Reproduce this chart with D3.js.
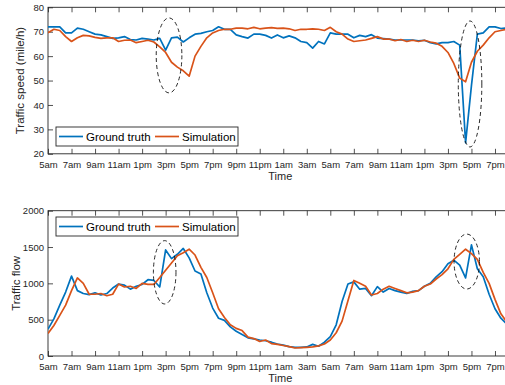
<!DOCTYPE html>
<html>
<head>
<meta charset="utf-8">
<script src="https://cdn.jsdelivr.net/npm/d3@7"></script>
<style>
  body { margin: 0; background: #fff; }
  svg { display: block; font-family: "Liberation Sans", Arial, sans-serif; }
</style>
</head>
<body>
<script>
// samples every half hour starting at 5am on day 1
const step = 0.5;
const tickLabels = ["5am", "7am", "9am", "11am", "1pm", "3pm", "5pm", "7pm", "9pm", "11pm",
  "1am", "3am", "5am", "7am", "9am", "11am", "1pm", "3pm", "5pm", "7pm"];
const seriesNames = ["Ground truth", "Simulation"];

const speedTruth = [72, 72, 72, 69.5, 69.5, 71.5, 71, 70, 69, 68.7,
  68, 67.3, 67.5, 68, 66.8, 66.6, 67.3, 67, 66.6, 67.3,
  62.5, 67.5, 67.8, 65.8, 67.5, 69, 69.3, 70, 70.5, 72,
  71, 71, 68.7, 68, 67.4, 69, 69, 68.5, 67.4, 68.7,
  67.5, 68.3, 67.5, 66, 65.5, 63.3, 66, 65, 69.5, 69,
  69, 69, 67.5, 68.5, 68, 68.8, 67.4, 67.2, 67, 66.6,
  66.6, 66.6, 66.6, 66.3, 66.5, 65.5, 65, 65.5, 65.5, 66,
  64.5, 24.5, 48, 69, 69.5, 72, 72, 71.3, 71.5];
const speedSim = [69.6, 71, 70.5, 68, 66, 67.5, 68.5, 68.3, 67.7, 67.3,
  67.5, 67.5, 66, 66.5, 66.6, 65.5, 66, 66.5, 65.8, 63.8,
  61.5, 57.5, 55.5, 54, 51.8, 60, 64, 67.5, 69.5, 70.5,
  71, 71, 71.5, 71.5, 71.2, 71.8, 71.2, 71.5, 71.7, 71.4,
  71.5, 71.2, 70.5, 71, 71, 71.2, 71, 70.5, 71.8, 70,
  69, 67, 66, 66.3, 66.6, 67.3, 68, 67, 67, 66.3,
  66.8, 66, 66.5, 66, 66.5, 65.8, 65.3, 64, 61.5, 57,
  51, 49.5, 57.5, 62, 64.5, 67.5, 70, 70.5, 71];

const flowTruth = [370, 510, 700, 880, 1100, 900, 860, 845, 870, 840,
  860, 935, 990, 975, 920, 960, 985, 1050, 1040, 950,
  1460, 1340, 1400, 1480, 1350, 1170, 1130, 870, 660, 520,
  490, 400, 340, 295, 250, 235, 220, 210, 190, 165,
  150, 130, 120, 120, 125, 160, 135, 190, 265, 430,
  750, 990, 1020, 920, 930, 830, 955, 880, 930, 900,
  880, 860, 890, 900, 960, 1000, 1090, 1160, 1270, 1320,
  1250, 1075, 1530, 1200, 1090, 850, 650, 520, 440];
const flowSim = [310, 420, 560, 700, 900, 1075, 1000, 850, 850, 860,
  830, 850, 990, 950, 960, 930, 1000, 985, 985, 1080,
  1180, 1280, 1380, 1420, 1470, 1390, 1220, 1080, 870, 650,
  530, 430, 380, 350, 260, 240, 200, 220, 170, 160,
  145, 130, 110, 115, 120, 125, 140, 165, 220, 320,
  480, 760, 1040, 1000, 960, 840, 860, 920, 960, 930,
  900, 870, 880, 900, 960, 990, 1060, 1120, 1200, 1330,
  1400, 1470, 1410, 1330, 1150, 1000, 780, 580, 470];

// dashed ellipses marking the disagreements (hour, value, half-width, half-height)
const speedRings = [{ h: 10.29, v: 60.3, dh: 1.09, dv: 15.35 }, { h: 35.88, v: 48.6, dh: 1.0, dv: 25.8 }];
const flowRings = [{ h: 9.92, v: 1152, dh: 0.96, dv: 436 }, { h: 35.6, v: 1300, dh: 1.08, dv: 378 }];

const colors = ["#0072BD", "#D95319"];
const ink = "#262626";

const svg = d3.select("body").append("svg")
  .attr("width", 505)
  .attr("height", 385);

const x = d3.scaleLinear().domain([0, 39.5]).range([48, 48 + 39.5 * 11.763]);

function panel(opts) {
  const y = d3.scaleLinear().domain(opts.domain).range([opts.bottom, opts.top]);
  const g = svg.append("g");
  const [x0, x1] = x.range();

  const clipId = "clip" + Math.round(opts.top);
  g.append("clipPath").attr("id", clipId)
    .append("rect").attr("x", x0).attr("y", opts.top)
    .attr("width", x1 - x0).attr("height", opts.bottom - opts.top);

  // axes with inward ticks like matlab
  g.append("g")
    .attr("transform", `translate(0,${opts.bottom})`)
    .call(d3.axisBottom(x)
      .tickValues(d3.range(0, 39, 2))
      .tickSizeInner(-5).tickSizeOuter(0).tickPadding(7.5)
      .tickFormat((d, i) => tickLabels[i]))
    .call(a => a.select(".domain").remove());
  g.append("g")
    .attr("transform", `translate(0,${opts.top})`)
    .call(d3.axisTop(x)
      .tickValues(d3.range(0, 39, 2))
      .tickSizeInner(-5).tickSizeOuter(0)
      .tickFormat(""))
    .call(a => a.select(".domain").remove());
  g.append("g")
    .attr("transform", `translate(${x0},0)`)
    .call(d3.axisLeft(y)
      .tickValues(opts.ticks)
      .tickFormat(d3.format("d"))
      .tickSizeInner(-5).tickSizeOuter(0).tickPadding(4))
    .call(a => a.select(".domain").remove());

  g.selectAll(".tick line").attr("stroke", ink).attr("stroke-width", 0.8);
  g.selectAll(".tick text").attr("fill", ink).style("font-size", "9.5px");

  g.append("rect")
    .attr("x", x0).attr("y", opts.top)
    .attr("width", x1 - x0).attr("height", opts.bottom - opts.top)
    .attr("fill", "none").attr("stroke", ink).attr("stroke-width", 0.9);

  const line = d3.line()
    .x((d, i) => x(i * step))
    .y(d => y(d));

  g.append("g").attr("clip-path", `url(#${clipId})`)
    .selectAll("path")
    .data(opts.series)
    .join("path")
    .attr("d", d => line(d))
    .attr("fill", "none")
    .attr("stroke", (d, i) => colors[i])
    .attr("stroke-width", 1.7)
    .attr("stroke-linejoin", "round");

  g.selectAll("ellipse")
    .data(opts.rings)
    .join("ellipse")
    .attr("cx", d => x(d.h))
    .attr("cy", d => y(d.v))
    .attr("rx", d => x(d.h + d.dh) - x(d.h))
    .attr("ry", d => y(d.v) - y(d.v + d.dv))
    .attr("fill", "none")
    .attr("stroke", "#111")
    .attr("stroke-width", 0.9)
    .attr("stroke-dasharray", "4,3");

  // legend
  const lg = g.append("g").attr("transform", `translate(56,${opts.legendTop})`);
  lg.append("rect")
    .attr("width", 182).attr("height", 19)
    .attr("fill", "#fff").attr("stroke", ink).attr("stroke-width", 0.9);
  const starts = [3, 99];
  const items = lg.selectAll("g.item")
    .data(seriesNames)
    .join("g").attr("class", "item")
    .attr("transform", (d, i) => `translate(${starts[i]},9.5)`);
  items.append("line")
    .attr("x1", 0).attr("x2", 24)
    .attr("stroke", (d, i) => colors[i]).attr("stroke-width", 1.7);
  items.append("text")
    .attr("x", 27).attr("y", 4)
    .attr("fill", "#000")
    .style("font-size", "11.5px")
    .text(d => d);

  // axis titles
  g.append("text")
    .attr("transform", `translate(${opts.labelX},${(opts.top + opts.bottom) / 2}) rotate(-90)`)
    .attr("text-anchor", "middle")
    .attr("fill", ink)
    .style("font-size", "11.5px")
    .text(opts.ylabel);
  g.append("text")
    .attr("x", (x0 + x1) / 2)
    .attr("y", opts.bottom + 26)
    .attr("text-anchor", "middle")
    .attr("fill", ink)
    .style("font-size", "11px")
    .text("Time");
}

panel({
  top: 7.3, bottom: 153.8, domain: [20, 80], ticks: d3.range(20, 81, 10),
  series: [speedTruth, speedSim], rings: speedRings,
  legendTop: 127, labelX: 23.5, ylabel: "Traffic speed (mile/h)"
});
panel({
  top: 210.7, bottom: 356, domain: [0, 2000], ticks: d3.range(0, 2001, 500),
  series: [flowTruth, flowSim], rings: flowRings,
  legendTop: 217, labelX: 20, ylabel: "Traffic flow"
});
</script>
</body>
</html>
